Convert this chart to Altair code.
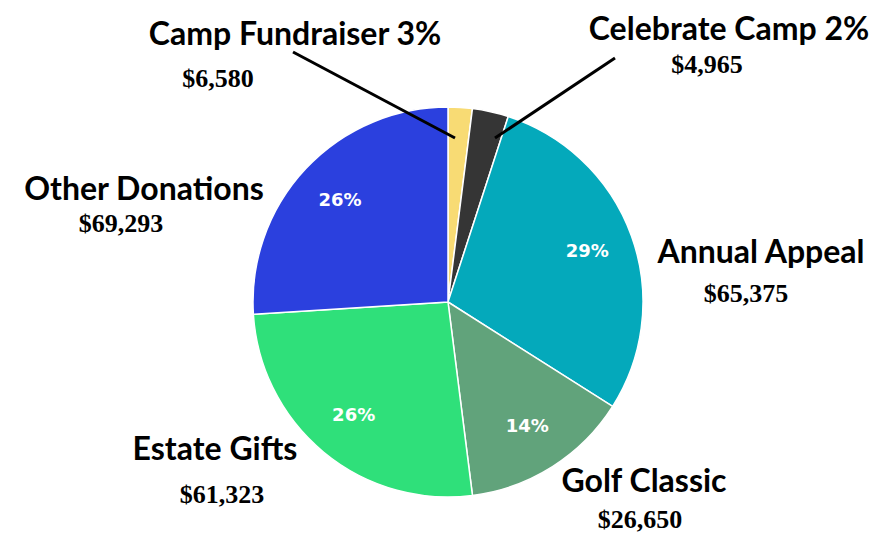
import altair as alt
import pandas as pd

# ---- data ----
categories = ["Camp Fundraiser", "Celebrate Camp", "Annual Appeal",
              "Golf Classic", "Estate Gifts", "Other Donations"]
slice_pct = [2, 3, 29, 14, 26, 26]          # visible slice sizes (percent)
inner_labels = ["", "", "29%", "14%", "26%", "26%"]
title_labels = ["Camp Fundraiser 3%", "Celebrate Camp 2%", "Annual Appeal",
                "Golf Classic", "Estate Gifts", "Other Donations"]
amount_labels = ["$6,580", "$4,965", "$65,375", "$26,650", "$61,323", "$69,293"]

# ---- styles / layout ----
colors = ["#F8DB74", "#353535", "#04A9BB", "#61A37B", "#2FE07A", "#2B40DE"]
OFF = 8  # page margin
cx, cy, R = 448 - OFF, 302 - OFF, 195
title_pos = [(295, 45), (729, 40), (761, 263), (644, 492), (215, 460), (144, 200)]
amount_pos = [(218, 87), (707, 73), (746, 302), (640, 528), (222, 503), (121, 232)]
leader_lines = [((293, 52), (455, 138)), ((615, 58), (495, 138))]

pie_df = pd.DataFrame({
    "idx": list(range(len(categories))),
    "cat": categories,
    "pct": slice_pct,
    "inner": inner_labels,
})

title_df = pd.DataFrame({
    "t": title_labels,
    "px": [p[0] - OFF for p in title_pos],
    "py": [p[1] - OFF for p in title_pos],
})
amount_df = pd.DataFrame({
    "t": amount_labels,
    "px": [p[0] - OFF for p in amount_pos],
    "py": [p[1] - OFF for p in amount_pos],
})
line_df = pd.DataFrame({
    "x1": [l[0][0] - OFF for l in leader_lines],
    "y1": [l[0][1] - OFF for l in leader_lines],
    "x2": [l[1][0] - OFF for l in leader_lines],
    "y2": [l[1][1] - OFF for l in leader_lines],
})

base = alt.Chart(pie_df).encode(
    theta=alt.Theta("pct:Q", stack=True),
    order=alt.Order("idx:Q"),
    x=alt.value(cx),
    y=alt.value(cy),
)

pie = base.mark_arc(radius=R, stroke="white", strokeWidth=1.5).encode(
    color=alt.Color("cat:N", scale=alt.Scale(domain=categories, range=colors), legend=None)
)

inner = base.mark_text(radius=148, font="DejaVu Sans", fontWeight="bold",
                       fontSize=18, color="white", align="center",
                       baseline="middle").encode(text="inner:N")

lines = alt.Chart(line_df).mark_rule(color="black", strokeWidth=3).encode(
    x=alt.X("x1:Q", scale=None), y=alt.Y("y1:Q", scale=None),
    x2="x2:Q", y2="y2:Q",
)

titles = alt.Chart(title_df).mark_text(
    font="Lato", fontWeight="bold", fontSize=32, color="black",
    align="center", baseline="alphabetic"
).encode(x=alt.X("px:Q", scale=None), y=alt.Y("py:Q", scale=None), text="t:N")

amounts = alt.Chart(amount_df).mark_text(
    font="Liberation Serif", fontWeight="bold", fontSize=26, color="black",
    align="center", baseline="alphabetic"
).encode(x=alt.X("px:Q", scale=None), y=alt.Y("py:Q", scale=None), text="t:N")

chart = alt.layer(pie, inner, lines, titles, amounts).properties(
    width=863, height=526, autosize="none", padding=0,
    background="white",
).configure_view(strokeWidth=0)

chart.save("out.html", embed_options={"renderer": "svg", "actions": False})
